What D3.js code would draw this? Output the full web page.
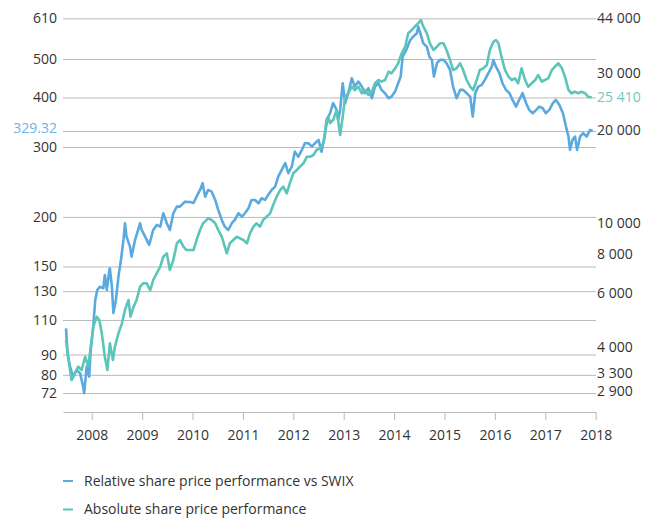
<!DOCTYPE html>
<html>
<head>
<meta charset="utf-8">
<script src="https://cdn.jsdelivr.net/npm/d3@7"></script>
<style>
    body { margin: 0; background: #fff; }
    svg text { font-family: "Open Sans", Lato, sans-serif; font-size: 14px; fill: #333; }
</style>
</head>
<body>
<svg id="chart" width="659" height="519"></svg>
<script>
// relative share price vs SWIX (left axis)
var relYears = [2007.49, 2007.52, 2007.57, 2007.63, 2007.70, 2007.77, 2007.83, 2007.85, 2007.90, 2007.95,
    2007.98, 2008.03, 2008.07, 2008.11, 2008.16, 2008.23, 2008.26, 2008.30, 2008.35, 2008.36,
    2008.40, 2008.43, 2008.48, 2008.53, 2008.58, 2008.63, 2008.66, 2008.69, 2008.76, 2008.79,
    2008.86, 2008.96, 2008.99, 2009.06, 2009.14, 2009.22, 2009.29, 2009.36, 2009.42, 2009.49,
    2009.55, 2009.62, 2009.69, 2009.75, 2009.85, 2009.95, 2010.02, 2010.08, 2010.15, 2010.20,
    2010.25, 2010.31, 2010.38, 2010.45, 2010.51, 2010.58, 2010.64, 2010.71, 2010.78, 2010.84,
    2010.91, 2010.98, 2011.04, 2011.11, 2011.17, 2011.24, 2011.31, 2011.37, 2011.44, 2011.50,
    2011.57, 2011.64, 2011.70, 2011.77, 2011.84, 2011.90, 2011.97, 2012.03, 2012.10, 2012.17,
    2012.23, 2012.30, 2012.37, 2012.43, 2012.50, 2012.56, 2012.63, 2012.66, 2012.73, 2012.79,
    2012.86, 2012.89, 2012.93, 2012.98, 2013.03, 2013.09, 2013.16, 2013.22, 2013.29, 2013.36,
    2013.42, 2013.49, 2013.56, 2013.62, 2013.69, 2013.75, 2013.82, 2013.89, 2013.95, 2014.02,
    2014.08, 2014.13, 2014.17, 2014.24, 2014.32, 2014.38, 2014.45, 2014.48, 2014.53, 2014.58,
    2014.65, 2014.70, 2014.75, 2014.79, 2014.85, 2014.91, 2014.98, 2015.04, 2015.11, 2015.17,
    2015.24, 2015.31, 2015.37, 2015.44, 2015.51, 2015.56, 2015.61, 2015.67, 2015.74, 2015.80,
    2015.87, 2015.94, 2015.97, 2016.02, 2016.09, 2016.15, 2016.22, 2016.29, 2016.35, 2016.42,
    2016.48, 2016.55, 2016.62, 2016.68, 2016.75, 2016.82, 2016.88, 2016.95, 2017.01, 2017.08,
    2017.15, 2017.21, 2017.28, 2017.35, 2017.41, 2017.46, 2017.49, 2017.54, 2017.59, 2017.63,
    2017.69, 2017.75, 2017.82, 2017.89, 2017.94];
var relValues = [104.8, 90.8, 83.9, 79.1, 82.3, 80.7, 74.7, 71.9, 83.9, 79.1,
    92.4, 105.8, 123.5, 130.9, 133.4, 132.2, 142.8, 130.9, 147.0, 148.5,
    133.4, 114.5, 123.5, 141.4, 155.8, 175.0, 192.8, 178.4, 168.3, 158.8,
    175.0, 192.8, 185.4, 178.4, 170.0, 185.4, 190.9, 189.0, 204.3, 192.8,
    185.4, 204.3, 212.3, 212.3, 218.5, 218.1, 216.9, 225.0, 233.9, 243.2,
    225.0, 233.9, 231.6, 220.7, 208.3, 196.5, 189.0, 185.4, 192.8, 196.5,
    204.3, 200.3, 204.3, 210.3, 220.7, 220.7, 216.5, 222.9, 220.7, 227.2,
    233.9, 238.4, 252.7, 262.7, 273.1, 257.7, 267.8, 292.1, 283.7, 295.0,
    306.7, 306.7, 300.7, 306.7, 312.7, 292.1, 325.1, 351.1, 365.0, 386.9,
    372.1, 351.1, 372.1, 434.4, 386.9, 410.0, 447.3, 426.0, 438.5, 426.0,
    410.0, 422.0, 398.2, 426.0, 434.4, 417.9, 410.0, 398.2, 402.0, 413.8,
    434.4, 451.4, 505.6, 522.5, 548.6, 557.6, 566.9, 585.5, 562.2, 539.8,
    531.0, 505.6, 497.4, 451.4, 487.9, 497.4, 497.4, 487.9, 469.3, 426.0,
    398.2, 417.9, 417.9, 410.0, 402.0, 357.9, 410.0, 426.0, 430.2, 442.9,
    460.4, 478.4, 497.4, 478.4, 460.4, 434.4, 417.9, 410.0, 394.3, 379.3,
    394.3, 410.0, 386.9, 372.1, 365.0, 372.1, 379.3, 375.8, 365.0, 372.1,
    386.9, 394.3, 383.0, 365.0, 337.8, 318.7, 295.0, 312.7, 318.7, 295.0,
    318.7, 325.1, 318.7, 331.3, 329.32];

// absolute share price (right axis)
var absYears = [2007.49, 2007.54, 2007.60, 2007.67, 2007.73, 2007.80, 2007.87, 2007.93, 2008.00, 2008.03,
    2008.10, 2008.15, 2008.20, 2008.26, 2008.31, 2008.36, 2008.42, 2008.46, 2008.53, 2008.60,
    2008.66, 2008.73, 2008.77, 2008.83, 2008.89, 2008.96, 2009.02, 2009.09, 2009.16, 2009.22,
    2009.29, 2009.36, 2009.42, 2009.49, 2009.55, 2009.62, 2009.69, 2009.75, 2009.82, 2009.88,
    2009.95, 2010.02, 2010.08, 2010.15, 2010.21, 2010.31, 2010.38, 2010.45, 2010.51, 2010.58,
    2010.64, 2010.68, 2010.74, 2010.81, 2010.88, 2010.94, 2011.01, 2011.08, 2011.14, 2011.21,
    2011.27, 2011.34, 2011.40, 2011.47, 2011.54, 2011.60, 2011.67, 2011.74, 2011.80, 2011.87,
    2011.93, 2012.00, 2012.07, 2012.13, 2012.20, 2012.27, 2012.33, 2012.40, 2012.46, 2012.53,
    2012.60, 2012.65, 2012.69, 2012.73, 2012.79, 2012.86, 2012.93, 2012.98, 2013.03, 2013.09,
    2013.16, 2013.22, 2013.29, 2013.36, 2013.42, 2013.49, 2013.56, 2013.62, 2013.69, 2013.75,
    2013.82, 2013.89, 2013.95, 2014.02, 2014.08, 2014.15, 2014.22, 2014.28, 2014.35, 2014.41,
    2014.48, 2014.53, 2014.58, 2014.65, 2014.71, 2014.78, 2014.85, 2014.91, 2014.98, 2015.04,
    2015.11, 2015.17, 2015.24, 2015.31, 2015.37, 2015.44, 2015.51, 2015.57, 2015.64, 2015.70,
    2015.77, 2015.84, 2015.90, 2015.97, 2016.02, 2016.07, 2016.13, 2016.20, 2016.27, 2016.33,
    2016.40, 2016.46, 2016.53, 2016.60, 2016.66, 2016.73, 2016.80, 2016.86, 2016.93, 2016.99,
    2017.06, 2017.13, 2017.19, 2017.26, 2017.33, 2017.39, 2017.46, 2017.52, 2017.59, 2017.65,
    2017.72, 2017.79, 2017.85, 2017.92];
var absValues = [4227, 3646, 3145, 3305, 3470, 3386, 3736, 3470, 4227, 4663,
    5021, 4900, 4441, 3736, 3386, 4125, 3646, 4022, 4441, 4782,
    5276, 5680, 5021, 5406, 5680, 6268, 6427, 6427, 6116, 6586,
    6919, 7266, 7823, 8022, 7090, 7634, 8637, 8850, 8423, 8220,
    8220, 8220, 8850, 9530, 10013, 10390, 10260, 10013, 9530, 9069,
    8423, 8022, 8637, 8850, 9069, 8963, 8850, 8637, 9300, 9765,
    10013, 9765, 10260, 10513, 10781, 11463, 12188, 12808, 13123, 12499,
    13458, 14490, 14848, 15214, 15601, 16381, 16381, 16587, 17213, 17431,
    18086, 20447, 22015, 21015, 21485, 23133, 19232, 22015, 25516, 26126,
    27353, 26732, 27353, 26126, 26732, 25819, 26418, 28007, 28656, 28319,
    28656, 30357, 30022, 31083, 32183, 34499, 36116, 39643, 40562, 41503,
    42494, 43482, 41503, 39643, 36982, 35298, 36116, 36982, 36982, 35298,
    32929, 30718, 31083, 32183, 30718, 28656, 27353, 26732, 28656, 30718,
    31083, 31806, 35298, 37394, 37840, 36982, 33692, 30718, 29321, 28656,
    28996, 28007, 31083, 28656, 27353, 28007, 28656, 29670, 28319, 28656,
    28996, 30718, 31431, 32183, 31083, 29321, 26732, 26126, 26418, 26126,
    26418, 26126, 25516, 25410];

var leftTicks = [72, 80, 90, 110, 130, 150, 200, 300, 329.32, 400, 500, 610];
var rightTicks = [2900, 3300, 4000, 6000, 8000, 10000, 20000, 25410, 30000, 44000];
var yearTicks = [2008, 2009, 2010, 2011, 2012, 2013, 2014, 2015, 2016, 2017, 2018];
var legendLabels = ["Relative share price performance vs SWIX", "Absolute share price performance"];

var BLUE = "#5aaadf", TEAL = "#5cc5b9";
var BLUE_TXT = "#6cb4e4", TEAL_TXT = "#6dcac0";
var GRID = "#b9b9b9";

var svg = d3.select("#chart");
var plotLeft = 63, plotRight = 596, axisY = 412;

var x = d3.scaleLinear().domain([2007.43, 2018]).range([plotLeft, 595.7]);
// both axes are log, the top labels sit a little off the log spacing
var yLeft = d3.scaleLog().domain([72, 500, 610]).range([393, 59, 18.3]);
var yRight = d3.scaleLog().domain([2900, 25410, 44000]).range([391, 97.3, 18.3]);

var spaceFmt = d3.formatLocale({decimal: ".", thousands: " ", grouping: [3], currency: ["", ""]}).format(",");

// gridlines + left labels
var gLeft = svg.append("g")
    .attr("transform", "translate(" + plotLeft + ",0)")
    .call(d3.axisLeft(yLeft)
        .tickValues(leftTicks)
        .tickSize(-(plotRight - plotLeft))
        .tickPadding(6)
        .tickFormat(function(d) { return d === 329.32 ? "329.32" : d3.format("d")(d); }));
gLeft.select(".domain").remove();
gLeft.selectAll(".tick line").attr("stroke", GRID).attr("stroke-width", 1);
gLeft.selectAll(".tick text")
    .style("fill", function(d) { return d === 329.32 ? BLUE_TXT : "#333"; })
    .attr("dy", function(d) { return d === 329.32 ? "0.1em" : "0.32em"; });

// right labels (no gridlines of their own)
var gRight = svg.append("g")
    .attr("transform", "translate(" + plotRight + ",0)")
    .call(d3.axisRight(yRight)
        .tickValues(rightTicks)
        .tickSize(0)
        .tickPadding(1)
        .tickFormat(spaceFmt));
gRight.select(".domain").remove();
gRight.selectAll(".tick text")
    .style("fill", function(d) { return d === 25410 ? TEAL_TXT : "#333"; });

// x axis
var gX = svg.append("g")
    .attr("transform", "translate(0," + axisY + ")")
    .call(d3.axisBottom(x)
        .tickValues(yearTicks)
        .tickFormat(d3.format("d"))
        .tickSize(8)
        .tickSizeOuter(0)
        .tickPadding(10));
gX.select(".domain").attr("stroke", GRID);
gX.selectAll(".tick line").attr("stroke", GRID);

// lines
var relData = relYears.map(function(t, i) { return [t, relValues[i]]; });
var absData = absYears.map(function(t, i) { return [t, absValues[i]]; });

svg.append("path")
    .datum(relData)
    .attr("fill", "none")
    .attr("stroke", BLUE)
    .attr("stroke-width", 2.6)
    .attr("stroke-linejoin", "round")
    .attr("d", d3.line().x(function(d) { return x(d[0]); }).y(function(d) { return yLeft(d[1]); }));

svg.append("path")
    .datum(absData)
    .attr("fill", "none")
    .attr("stroke", TEAL)
    .attr("stroke-width", 2.6)
    .attr("stroke-linejoin", "round")
    .attr("d", d3.line().x(function(d) { return x(d[0]); }).y(function(d) { return yRight(d[1]); }));

// legend
var legend = svg.append("g").selectAll("g")
    .data(legendLabels)
    .enter().append("g")
    .attr("transform", function(d, i) { return "translate(" + plotLeft + "," + (481 + i * 28.5) + ")"; });
legend.append("line")
    .attr("x1", 0).attr("x2", 10)
    .attr("stroke", function(d, i) { return i === 0 ? BLUE : TEAL; })
    .attr("stroke-width", 2);
legend.append("text")
    .attr("x", 21)
    .attr("dy", "0.35em")
    .text(function(d) { return d; });
</script>
</body>
</html>
